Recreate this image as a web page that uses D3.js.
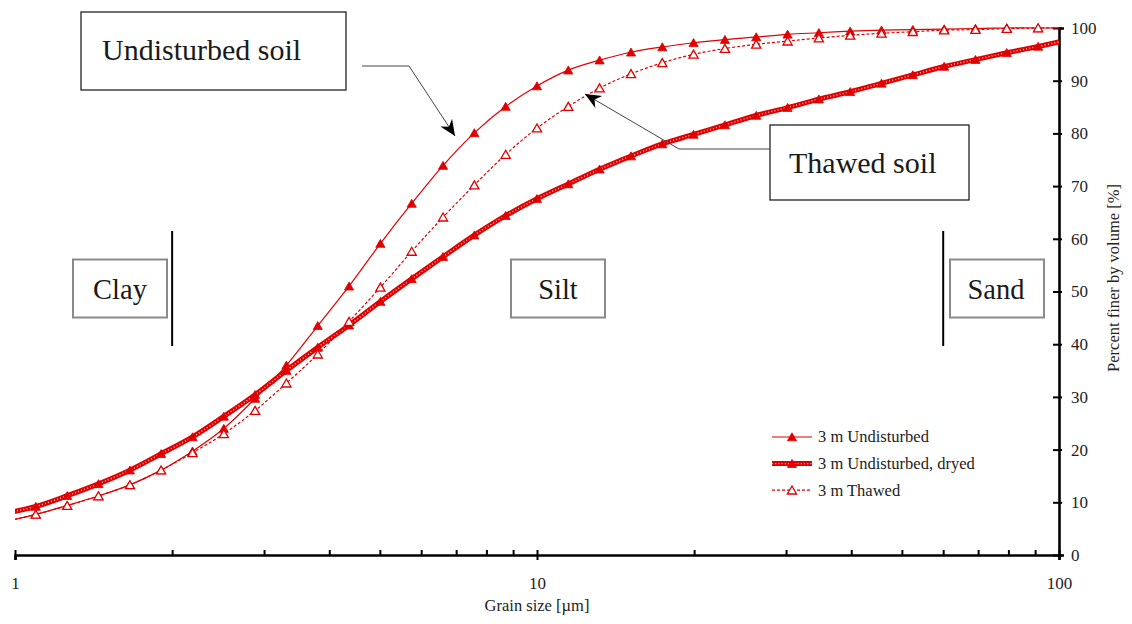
<!DOCTYPE html>
<html>
<head>
<meta charset="utf-8">
<script src="https://cdn.jsdelivr.net/npm/d3@7/dist/d3.min.js"></script>
<style>
  html, body { margin: 0; padding: 0; background: #fff; }
  svg { display: block; }
  svg text { font-family: "Liberation Serif", "DejaVu Serif", serif; }
</style>
</head>
<body>
<svg id="chart" width="1132" height="624"></svg>
<script>
// Grain size classes of the laser diffraction analysis [µm]
const grainSizes = [0.955, 1.096, 1.259, 1.445, 1.660, 1.905, 2.188, 2.512, 2.884, 3.311,
  3.802, 4.365, 5.012, 5.754, 6.607, 7.586, 8.710, 10.00, 11.48, 13.18,
  15.14, 17.38, 19.95, 22.91, 26.30, 30.20, 34.67, 39.81, 45.71, 52.48,
  60.26, 69.18, 79.43, 91.20, 104.7];

// Cumulative percent finer by volume for each sample
const undisturbed = [6.3, 7.7, 9.4, 11.2, 13.3, 16.1, 19.7, 24.0, 29.7, 36.0,
  43.5, 51.0, 59.1, 66.7, 73.9, 80.1, 85.1, 89.0, 92.0, 93.9,
  95.4, 96.4, 97.2, 97.8, 98.3, 98.8, 99.1, 99.4, 99.6, 99.7,
  99.8, 99.9, 100, 100, 100];
const undisturbedDryed = [7.9, 9.2, 11.25, 13.5, 16.1, 19.2, 22.4, 26.3, 30.4, 35.0,
  39.4, 43.6, 48.1, 52.4, 56.6, 60.7, 64.4, 67.6, 70.4, 73.2,
  75.7, 78.0, 79.8, 81.6, 83.4, 84.9, 86.5, 87.9, 89.5, 91.1,
  92.7, 94.0, 95.3, 96.5, 97.8];
const thawed = [6.3, 7.7, 9.36, 11.2, 13.3, 16.1, 19.4, 23.0, 27.4, 32.6,
  38.1, 44.3, 50.8, 57.6, 64.1, 70.2, 76.0, 81.0, 85.1, 88.6,
  91.3, 93.4, 95.0, 96.1, 96.9, 97.5, 98.1, 98.6, 99.0, 99.3,
  99.6, 99.7, 99.9, 100, 100];

const seriesNames = ["3 m Undisturbed", "3 m Undisturbed, dryed", "3 m Thawed"];
const xMajorTicks = [1, 10, 100];
const xMinorTicks = [2, 3, 4, 5, 6, 7, 8, 9, 20, 30, 40, 50, 60, 70, 80, 90];
const yTicks = [0, 10, 20, 30, 40, 50, 60, 70, 80, 90, 100];

// Soil fraction boundaries [µm]
const clayLimit = 2;
const sandLimit = 60;

const RED = "#e00000";
const SERIF = "Liberation Serif";
const svg = d3.select("#chart");

const x = d3.scaleLog().domain([1, 100]).range([15, 1059]);
const y = d3.scaleLinear().domain([0, 100]).range([555, 28]);

svg.append("defs").append("clipPath").attr("id", "plot-clip")
  .append("rect").attr("x", x(1)).attr("y", y(100) - 6)
  .attr("width", x(100) - x(1)).attr("height", y(0) - y(100) + 6);

// Fraction boundaries and labels
const fracLine = (v) => svg.append("line")
  .attr("x1", x(v)).attr("x2", x(v)).attr("y1", 231).attr("y2", 346)
  .attr("stroke", "#000").attr("stroke-width", 2);
fracLine(clayLimit);
fracLine(sandLimit);

const fracBox = (x0, x1, label, cx) => {
  svg.append("rect").attr("x", x0).attr("y", 259.5).attr("width", x1 - x0).attr("height", 58)
    .attr("fill", "#fff").attr("stroke", "#8a8a8a").attr("stroke-width", 2);
  svg.append("text").attr("x", cx).attr("y", 299).attr("text-anchor", "middle")
    .attr("font-family", SERIF).attr("font-size", 28.5).attr("fill", "#1a1a1a").text(label);
};
fracBox(73, 167, "Clay", 120);
fracBox(511, 605, "Silt", 558);
fracBox(950, 1044, "Sand", 996);

// Axes
const xAxis = svg.append("g").attr("transform", `translate(0,${y(0)})`)
  .call(d3.axisBottom(x).tickValues(xMajorTicks).tickSizeOuter(0).tickSize(5)
    .tickFormat(d3.format("d")));
xAxis.attr("font-family", SERIF);
xAxis.select(".domain").attr("stroke-width", 2.6).attr("stroke", "#000");
xAxis.selectAll(".tick line").attr("y1", -5).attr("y2", 5).attr("stroke-width", 2);
xAxis.selectAll(".tick text").attr("y", 22).attr("dy", "0.71em")
  .attr("font-size", 17).attr("fill", "#222").attr("font-family", SERIF);
const xMinor = svg.append("g").attr("transform", `translate(0,${y(0)})`)
  .call(d3.axisBottom(x).tickValues(xMinorTicks).tickSize(-5).tickSizeOuter(0).tickFormat(""));
xMinor.select(".domain").remove();
xMinor.selectAll(".tick line").attr("stroke-width", 2);

const yAxis = svg.append("g").attr("transform", `translate(${x(100)},0)`)
  .call(d3.axisRight(y).tickValues(yTicks).tickSizeOuter(0).tickSize(5));
yAxis.attr("font-family", SERIF);
yAxis.select(".domain").attr("stroke-width", 2.6).attr("stroke", "#000");
yAxis.selectAll(".tick line").attr("x1", -6).attr("x2", 3).attr("stroke-width", 2);
yAxis.selectAll(".tick text").attr("x", 12).attr("font-size", 17).attr("fill", "#222")
  .attr("font-family", SERIF);

svg.append("text").attr("x", x(10)).attr("y", 611).attr("text-anchor", "middle")
  .attr("font-family", SERIF).attr("font-size", 16.5).attr("fill", "#222").text("Grain size [µm]");
svg.append("text").attr("transform", "translate(1119,278) rotate(-90)")
  .attr("text-anchor", "middle").attr("font-family", SERIF).attr("font-size", 16.5).attr("fill", "#222")
  .text("Percent finer by volume [%]");

// Curves
const plot = svg.append("g").attr("clip-path", "url(#plot-clip)");
const line = d3.line().x(d => x(d[0])).y(d => y(d[1])).curve(d3.curveCatmullRom.alpha(0.5));
const pairs = vals => grainSizes.map((g, i) => [g, vals[i]]);
const tri = "M0,-4.2L4.6,3.8L-4.6,3.8Z";

function drawSeries(vals, style) {
  const data = pairs(vals);
  const g = plot.append("g");
  if (style === "thick") {
    g.append("path").attr("d", line(data)).attr("fill", "none").attr("stroke", RED).attr("stroke-width", 5);
    g.append("path").attr("d", line(data)).attr("fill", "none").attr("stroke", "#fff")
      .attr("stroke-width", 1.4).attr("stroke-dasharray", "1,2.2").attr("opacity", 0.75);
  } else {
    g.append("path").attr("d", line(data)).attr("fill", "none").attr("stroke", RED)
      .attr("stroke-width", 1.2).attr("stroke-dasharray", style === "dashed" ? "3,2" : null);
  }
  g.selectAll("path.mk").data(data.filter(d => d[0] >= 1 && d[0] <= 100)).join("path")
    .attr("class", "mk").attr("d", tri)
    .attr("transform", d => `translate(${x(d[0])},${y(d[1])})`)
    .attr("fill", style === "dashed" ? "#fff" : RED)
    .attr("stroke", RED).attr("stroke-width", style === "dashed" ? 1.3 : 0.8);
}
drawSeries(undisturbed, "solid");
drawSeries(undisturbedDryed, "thick");
drawSeries(thawed, "dashed");

// Legend
const styles = ["solid", "thick", "dashed"];
const legend = svg.append("g");
seriesNames.forEach((name, i) => {
  const ly = 437 + i * 26.6;
  const st = styles[i];
  if (st === "thick") {
    legend.append("line").attr("x1", 772).attr("x2", 812).attr("y1", ly).attr("y2", ly)
      .attr("stroke", RED).attr("stroke-width", 5);
    legend.append("line").attr("x1", 772).attr("x2", 812).attr("y1", ly).attr("y2", ly)
      .attr("stroke", "#fff").attr("stroke-width", 1.4).attr("stroke-dasharray", "1,2.2").attr("opacity", 0.75);
  } else {
    legend.append("line").attr("x1", 772).attr("x2", 812).attr("y1", ly).attr("y2", ly)
      .attr("stroke", RED).attr("stroke-width", 1.2).attr("stroke-dasharray", st === "dashed" ? "3,2" : null);
  }
  legend.append("path").attr("d", tri).attr("transform", `translate(792,${ly})`)
    .attr("fill", st === "dashed" ? "#fff" : RED).attr("stroke", RED)
    .attr("stroke-width", st === "dashed" ? 1.3 : 0.8);
  legend.append("text").attr("x", 818).attr("y", ly).attr("dy", "0.33em")
    .attr("font-family", SERIF).attr("font-size", 16.5).attr("fill", "#222").text(name);
});

// Callout boxes with arrows
function callout(box, label, textX, textY, pts) {
  svg.append("rect").attr("x", box[0]).attr("y", box[1]).attr("width", box[2] - box[0])
    .attr("height", box[3] - box[1]).attr("fill", "#fff").attr("stroke", "#222").attr("stroke-width", 1.3);
  svg.append("text").attr("x", textX).attr("y", textY).attr("font-family", SERIF)
    .attr("font-size", 30).attr("fill", "#1a1a1a").text(label);
  svg.append("path").attr("d", d3.line()(pts)).attr("fill", "none").attr("stroke", "#444").attr("stroke-width", 1);
  const [p0, p1] = pts.slice(-2);
  const a = Math.atan2(p1[1] - p0[1], p1[0] - p0[0]);
  const head = "M0,0L-16,-7L-11,0L-16,7Z";
  svg.append("path").attr("d", head).attr("fill", "#000")
    .attr("transform", `translate(${p1[0]},${p1[1]}) rotate(${a * 180 / Math.PI})`);
}
callout([81, 12, 346, 90], "Undisturbed soil", 102, 60, [[362, 66], [409, 66], [455, 136]]);
callout([770, 125, 969, 200], "Thawed soil", 789, 173, [[770, 149], [679, 149], [585, 94]]);
</script>
</body>
</html>
